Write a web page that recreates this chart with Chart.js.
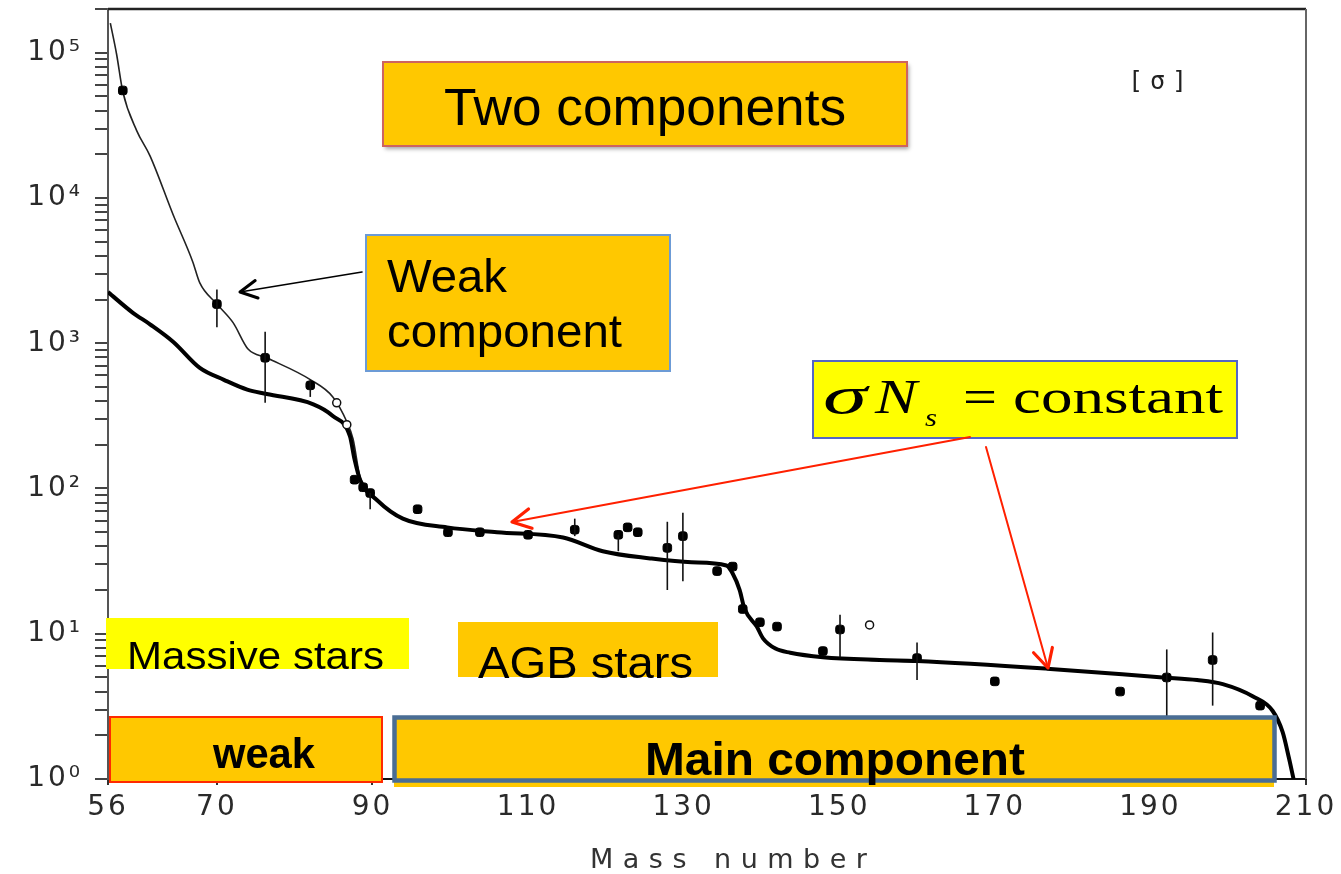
<!DOCTYPE html>
<html><head><meta charset="utf-8">
<script src="https://cdn.jsdelivr.net/npm/chart.js@4.4.1/dist/chart.umd.min.js"></script>
<style>html,body{margin:0;padding:0;background:#fff;overflow:hidden}canvas{display:block}</style>
</head><body>
<canvas id="c" width="1341" height="874"></canvas>
<script>
// ---- axis ticks ----
const massNumberTicks = [56, 70, 90, 110, 130, 150, 170, 190, 210];
const yDecades = [1, 10, 100, 1000, 10000, 100000];
const yDecadeLabels = ['10⁰', '10¹', '10²', '10³', '10⁴', '10⁵'];
const yMinorSteps = [2, 3, 4, 5, 6, 7, 8, 9];
const xAxisTitle = 'Mass number';

// ---- main component (thick curve): mass number, sigma*N ----
const mainA = [56, 59.2, 61.4, 64.4, 67.8, 70.9, 73.9, 76.4, 82.4, 84.9, 87.1, 87.7, 88.4, 90.6, 93.9, 99.6, 106, 114.5, 119.6, 125.7, 131, 135.5, 136.3, 137.2, 137.8, 139.4, 140.2, 141.8, 143.7, 147.9, 155.2, 160, 176.7, 191.6, 196, 199.3, 203.2, 205.7, 207, 207.8, 208.4];
const mainSigmaN = [2250, 1620, 1350, 1020, 676, 560, 479, 447, 380, 316, 229, 158, 115, 83, 62, 54, 50, 46, 37, 33, 31, 29.5, 26, 20, 15, 11.2, 9.3, 7.9, 7.4, 6.9, 6.6, 6.5, 5.75, 5.0, 4.8, 4.5, 3.7, 2.95, 2.1, 1.4, 1.0];

// ---- main + weak component (thin curve) ----
const totalA = [56.3, 57.1, 57.9, 59.7, 61.4, 64.4, 66.9, 67.8, 70.0, 72.1, 74.0, 76.4, 82.0, 84.9, 86.7, 87.5, 88.4, 90.6];
const totalSigmaN = [160000, 98000, 54000, 29000, 19500, 7600, 3630, 2600, 1860, 1380, 912, 794, 562, 427, 288, 219, 120, 83];

// ---- measured values with error bars ----
const pointA = [57.9, 70.0, 76.2, 82.0, 87.7, 88.8, 89.7, 95.8, 99.7, 103.8, 110.0, 116.0, 121.6, 122.8, 124.1, 127.9, 129.9, 134.3, 136.3, 137.6, 139.8, 142.0, 147.9, 150.1, 160.0, 170.0, 186.1, 192.1, 198.0, 204.1];
const pointSigmaN = [55000, 1860, 794, 513, 115, 102, 93, 72, 50, 50, 48, 52, 48, 54, 50, 39, 47, 27, 29, 14.8, 12, 11.2, 7.6, 10.7, 6.8, 4.7, 4.0, 5.0, 6.6, 3.2];
const errHigh = [null, 2340, 1200, 562, null, null, null, null, null, null, null, 62, null, null, null, 59, 68, null, null, null, null, null, null, 13.5, 8.7, null, null, 7.8, 10.2, null];
const errLow = [null, 1290, 389, 427, null, null, 72, null, null, null, null, 47, 37, null, null, 20, 23, null, null, null, null, null, null, 6.9, 4.8, null, null, 2.7, 3.2, null];

// ---- open symbols ----
const openA = [85.4, 86.7, 153.9];
const openSigmaN = [389, 275, 11.5];

const toXY = (xs, ys) => xs.map((x, i) => ({x: x, y: ys[i]}));

const yTickValues = [];
yDecades.forEach(d => { yTickValues.push(d); yMinorSteps.forEach(m => { if (d * m <= 200000) yTickValues.push(d * m); }); });

const ORANGE = '#FFC800';
const YELLOW = '#FFFF00';

function fitText(ctx, str, x, base, font, width) {
  ctx.save();
  ctx.font = font;
  ctx.textAlign = 'left';
  ctx.textBaseline = 'alphabetic';
  const w = ctx.measureText(str).width;
  ctx.translate(x, base);
  ctx.scale(width / w, 1);
  ctx.fillStyle = '#000';
  ctx.fillText(str, 0, 0);
  ctx.restore();
}
function rectBox(ctx, x, y, w, h, fill, stroke, lw) {
  ctx.save();
  ctx.fillStyle = fill;
  ctx.fillRect(x, y, w, h);
  if (stroke) { ctx.strokeStyle = stroke; ctx.lineWidth = lw; ctx.strokeRect(x, y, w, h); }
  ctx.restore();
}
function arrow(ctx, x1, y1, x2, y2, color, lw, headLen, headLw) {
  ctx.save();
  ctx.strokeStyle = color;
  ctx.lineCap = 'round';
  ctx.lineJoin = 'round';
  ctx.lineWidth = lw;
  ctx.beginPath(); ctx.moveTo(x1, y1); ctx.lineTo(x2, y2); ctx.stroke();
  const ang = Math.atan2(y1 - y2, x1 - x2);
  const a = Math.PI / 6.5;
  ctx.lineWidth = headLw;
  ctx.beginPath();
  ctx.moveTo(x2 + headLen * Math.cos(ang + a), y2 + headLen * Math.sin(ang + a));
  ctx.lineTo(x2, y2);
  ctx.lineTo(x2 + headLen * Math.cos(ang - a), y2 + headLen * Math.sin(ang - a));
  ctx.stroke();
  ctx.restore();
}

const annot = {
  id: 'annot',
  beforeDraw(chart) { chart.ctx.letterSpacing = '0px'; },
  beforeDatasetsDraw(chart) {
    const ctx = chart.ctx, a = chart.chartArea;
    ctx.letterSpacing = '0px';
    ctx.save();
    ctx.strokeStyle = '#222'; ctx.lineWidth = 2.5;
    ctx.beginPath(); ctx.moveTo(a.left, a.top); ctx.lineTo(a.right, a.top); ctx.stroke();
    ctx.strokeStyle = '#666'; ctx.lineWidth = 2;
    ctx.beginPath(); ctx.moveTo(a.right, a.top); ctx.lineTo(a.right, a.bottom); ctx.stroke();
    ctx.restore();
  },
  afterDatasetsDraw(chart) {
    const ctx = chart.ctx, xs = chart.scales.x, ys = chart.scales.y;
    ctx.save();
    ctx.strokeStyle = '#111'; ctx.lineWidth = 1.6;
    pointA.forEach((A, i) => {
      if (errHigh[i] == null && errLow[i] == null) return;
      const px = xs.getPixelForValue(A);
      const hi = ys.getPixelForValue(errHigh[i] != null ? errHigh[i] : pointSigmaN[i]);
      const lo = ys.getPixelForValue(errLow[i] != null ? errLow[i] : pointSigmaN[i]);
      ctx.beginPath(); ctx.moveTo(px, hi); ctx.lineTo(px, lo); ctx.stroke();
    });
    ctx.restore();
    ctx.letterSpacing = '3px';
  },
  afterDraw(chart) {
    const ctx = chart.ctx;
    // x axis title (letter-spaced like the original scan)
    ctx.save();
    ctx.letterSpacing = '9.5px';
    ctx.font = '27px "DejaVu Sans"'; ctx.fillStyle = '#333';
    ctx.textBaseline = 'middle'; ctx.textAlign = 'left';
    ctx.fillText(xAxisTitle, 590, 861);
    ctx.restore();

    // panel label
    ctx.save();
    ctx.letterSpacing = '7px';
    ctx.font = '25px "DejaVu Sans Mono"'; ctx.fillStyle = '#222';
    ctx.textBaseline = 'alphabetic'; ctx.textAlign = 'left';
    ctx.fillText('[σ]', 1128, 89);
    ctx.restore();
    ctx.letterSpacing = '0px';

    // Two components
    ctx.save();
    ctx.shadowColor = 'rgba(0,0,0,0.35)'; ctx.shadowOffsetX = 2; ctx.shadowOffsetY = 3; ctx.shadowBlur = 4;
    ctx.fillStyle = ORANGE; ctx.fillRect(383, 62, 524, 84);
    ctx.restore();
    ctx.save(); ctx.strokeStyle = '#CD6460'; ctx.lineWidth = 2; ctx.strokeRect(383, 62, 524, 84); ctx.restore();
    fitText(ctx, 'Two components', 444, 125, '51px "Liberation Sans", Arial, sans-serif', 402);

    // Weak component
    rectBox(ctx, 366, 235, 304, 136, ORANGE, '#6C9BD6', 2);
    fitText(ctx, 'Weak', 387, 292, '46px "Liberation Sans", Arial, sans-serif', 120);
    fitText(ctx, 'component', 387, 347, '46px "Liberation Sans", Arial, sans-serif', 235);
    arrow(ctx, 362, 272, 240, 292, '#000', 1.6, 19, 3);

    // sigma N_s = constant
    rectBox(ctx, 813, 361, 424, 77, YELLOW, '#5566C4', 2);
    fitText(ctx, 'σ', 823, 413, 'italic 52px "Liberation Serif", "Times New Roman", serif', 44);
    fitText(ctx, 'N', 875, 413, 'italic 48px "Liberation Serif", "Times New Roman", serif', 42);
    fitText(ctx, 's', 925, 426, 'italic 26px "Liberation Serif", "Times New Roman", serif', 12);
    fitText(ctx, '=', 963, 413, '48px "Liberation Serif", "Times New Roman", serif', 34);
    fitText(ctx, 'constant', 1013, 413, '48px "Liberation Serif", "Times New Roman", serif', 210);
    arrow(ctx, 970, 437, 512, 522, '#FF2000', 2, 21, 3.2);
    arrow(ctx, 986, 447, 1048, 668, '#FF2000', 2, 21, 3.2);

    // Massive stars / AGB stars
    rectBox(ctx, 106, 618, 303, 51, YELLOW, null, 0);
    fitText(ctx, 'Massive stars', 127, 669, '38px "Liberation Sans", Arial, sans-serif', 257);
    rectBox(ctx, 458, 622, 260, 55, ORANGE, null, 0);
    fitText(ctx, 'AGB stars', 478, 678, '45px "Liberation Sans", Arial, sans-serif', 215);

    // weak / Main component
    rectBox(ctx, 110, 717, 272, 65, ORANGE, '#FF2A00', 2);
    fitText(ctx, 'weak', 213, 768, 'bold 43px "Liberation Sans", Arial, sans-serif', 102);
    ctx.save(); ctx.fillStyle = ORANGE; ctx.fillRect(394, 716, 880, 71); ctx.restore();
    ctx.save(); ctx.strokeStyle = '#4A6D94'; ctx.lineWidth = 4.5; ctx.strokeRect(394.5, 717.5, 880, 63); ctx.restore();
    fitText(ctx, 'Main component', 645, 775, 'bold 46px "Liberation Sans", Arial, sans-serif', 380);
  }
};

new Chart(document.getElementById('c'), {
  type: 'line',
  data: {
    datasets: [
      {label: 'measured', data: toXY(pointA, pointSigmaN), showLine: false, pointStyle: 'rectRounded',
       pointRadius: 5, pointBackgroundColor: '#000', pointBorderColor: '#000', pointBorderWidth: 1},
      {label: 'open', data: toXY(openA, openSigmaN), showLine: false, pointStyle: 'circle',
       pointRadius: 4, pointBackgroundColor: '#fff', pointBorderColor: '#111', pointBorderWidth: 1.5},
      {label: 'main', data: toXY(mainA, mainSigmaN), borderColor: '#000', borderWidth: 4, pointRadius: 0,
       cubicInterpolationMode: 'monotone', fill: false},
      {label: 'total', data: toXY(totalA, totalSigmaN), borderColor: '#222', borderWidth: 1.6, pointRadius: 0,
       cubicInterpolationMode: 'monotone', fill: false}
    ]
  },
  options: {
    responsive: false, animation: false, devicePixelRatio: 1,
    layout: {padding: {top: 9, right: 35, left: 0, bottom: 0}},
    plugins: {legend: {display: false}, tooltip: {enabled: false}},
    scales: {
      x: {
        type: 'linear', min: 56, max: 210,
        afterBuildTicks: s => { s.ticks = massNumberTicks.map(v => ({value: v})); },
        afterFit: s => { s.height = 95; s.paddingLeft = 0; s.paddingRight = 0; },
        grid: {display: true, drawOnChartArea: false, drawTicks: true, tickLength: 6, color: '#333', lineWidth: 2},
        border: {display: true, color: '#111', width: 2},
        ticks: {autoSkip: false, maxRotation: 0, padding: 6, color: '#2a2a2a', font: {family: 'DejaVu Sans', size: 28}, z: 1},
        title: {display: false, text: xAxisTitle}
      },
      y: {
        type: 'logarithmic', min: 1, max: 200000,
        afterBuildTicks: s => { s.ticks = yTickValues.map(v => ({value: v, major: yDecades.includes(v)})); },
        afterFit: s => { s.width = 108; s.paddingTop = 0; s.paddingBottom = 0; },
        grid: {display: true, drawOnChartArea: false, drawTicks: true, tickLength: 13, color: '#444', lineWidth: 2},
        border: {display: true, color: '#555', width: 2},
        ticks: {autoSkip: false, padding: 12, color: '#2a2a2a', font: {family: 'DejaVu Sans', size: 28}, z: 1,
          callback: v => { const i = yDecades.indexOf(v); return i >= 0 ? yDecadeLabels[i] : ''; }}
      }
    }
  },
  plugins: [annot]
});
</script>
</body></html>
